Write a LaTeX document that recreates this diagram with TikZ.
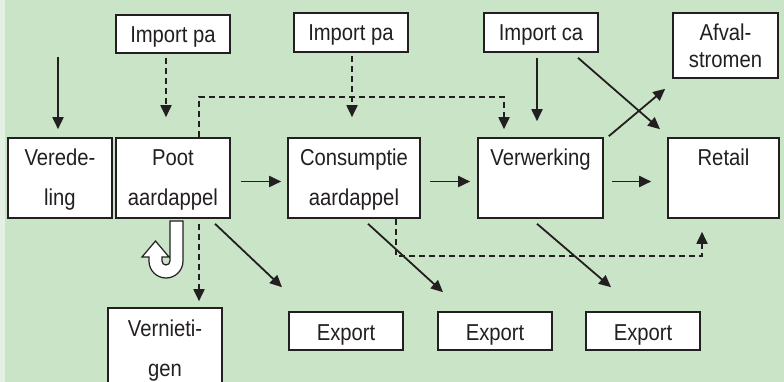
\documentclass[tikz,border=0pt]{standalone}
\usepackage{fontspec}
\setmainfont[FakeStretch=0.88]{Liberation Sans}
\usetikzlibrary{arrows.meta,calc}
\definecolor{bg}{HTML}{C9E4C6}
\definecolor{strip}{HTML}{E4F1E2}
\definecolor{ink}{HTML}{231F20}
\begin{document}
\begin{tikzpicture}[x=1pt,y=-1pt,
  box/.style={draw=ink,line width=1.6pt,fill=white,inner sep=0pt,align=center,
    font=\fontsize{23}{40}\selectfont,text=ink},
  onebox/.style={box,text height=28pt,text depth=10pt,minimum width=114pt},
  tallbox/.style={box,minimum height=80pt},
  arr/.style={draw=ink,line width=1.8pt,-{Triangle[length=12pt,width=11pt]}},
  darr/.style={arr,dash pattern=on 6pt off 4pt}]
\useasboundingbox (0,0) rectangle (784,382);
\fill[bg] (0,0) rectangle (784,382);
\fill[strip] (0,0) rectangle (5,382);

% boxes
\node[tallbox,minimum width=104pt] (vered) at (60,178) {\strut Verede-\\\strut ling};
\node[tallbox,minimum width=114pt] (poot) at (173,178) {\strut Poot\\\strut aardappel};
\node[tallbox,minimum width=132pt] (cons) at (354,178) {\strut Consumptie\\\strut aardappel};
\node[tallbox,minimum width=125pt] (verw) at (540.5,178) {\strut Verwerking\\\strut};
\node[tallbox,minimum width=111pt] (retail) at (723.5,178) {\strut Retail\\\strut};
\node[tallbox,minimum width=114pt] (vern) at (165,348) {\strut Vernieti-\\\strut gen};
\node[onebox] (ipa1) at (173,34) {Import pa};
\node[onebox,text depth=11pt] (ipa2) at (351,32.5) {Import pa};
\node[onebox,text depth=11pt] (ica) at (541,32.5) {Import ca};
\node[box,minimum width=105pt,minimum height=65pt,font=\fontsize{23}{27}\selectfont] (afval) at (725.5,45.5) {Afval-\\stromen};
\node[onebox] (exp1) at (346,331) {Export};
\node[onebox] (exp2) at (495,331) {Export};
\node[onebox] (exp3) at (643,331) {Export};

% connectors
\coordinate (vsrc) at (58,57);
\draw[arr] (vsrc) -- ([xshift=-2pt,yshift=8pt]vered.north);
\draw[darr] ([xshift=-7pt,yshift=-4pt]ipa1.south) -- ([xshift=-7pt,yshift=20pt]poot.north);
\draw[darr] ([xshift=1pt,yshift=-3pt]ipa2.south) -- ([xshift=-2pt,yshift=20pt]cons.north);
\draw[darr] ([xshift=26pt]poot.north) -- ++(0,-40) -| ([xshift=-36.5pt,yshift=8pt]verw.north);
\draw[arr] ([xshift=-4pt,yshift=-5pt]ica.south) -- ([xshift=-3.5pt,yshift=16pt]verw.north);
\draw[arr] ([xshift=37pt,yshift=-5pt]ica.south) -- ([xshift=-63.5pt,yshift=8pt]retail.north);
\draw[arr] ([xshift=5pt,yshift=1pt]verw.north east) -- ([xshift=-7pt,yshift=-10pt]afval.south west);
\draw[arr] ([xshift=10pt,yshift=-3.5pt]poot.east) -- ([xshift=-6pt,yshift=-3.5pt]cons.west);
\draw[arr] ([xshift=9pt,yshift=-3.5pt]cons.east) -- ([xshift=-7pt,yshift=-3.5pt]verw.west);
\draw[arr] ([xshift=8pt,yshift=-3.5pt]verw.east) -- ([xshift=-16pt,yshift=-3.5pt]retail.west);
\draw[arr] ([xshift=42pt,yshift=-5pt]poot.south) -- ([xshift=-64pt,yshift=24pt]exp1.north);
\draw[darr] ([xshift=26pt,yshift=-5pt]poot.south) -- ([xshift=34pt,yshift=6pt]vern.north);
\draw[arr] ([xshift=14pt,yshift=-5pt]cons.south) -- ([xshift=-52pt,yshift=19pt]exp2.north);
\draw[darr] ([xshift=42pt]cons.south) -- ++(0,37) -| ([xshift=-21.5pt,yshift=-13pt]retail.south);
\draw[arr] ([xshift=-3.5pt,yshift=-5pt]verw.south) -- ([xshift=-32pt,yshift=24pt]exp3.north);

% U-turn symbol
\draw[ink,line width=1.2pt,fill=white,line join=miter]
  (170,221) -- (183,221) -- (183,261)
  .. controls (183,270.4) and (175.4,278) .. (166,278)
  .. controls (156.6,278) and (149,270.4) .. (149,261)
  -- (149,257) -- (142,257) -- (155.5,241) -- (169,257) -- (162,257) -- (162,261)
  .. controls (162,263.2) and (163.8,265) .. (166,265)
  .. controls (168.2,265) and (170,263.2) .. (170,261) -- cycle;
\end{tikzpicture}
\end{document}
